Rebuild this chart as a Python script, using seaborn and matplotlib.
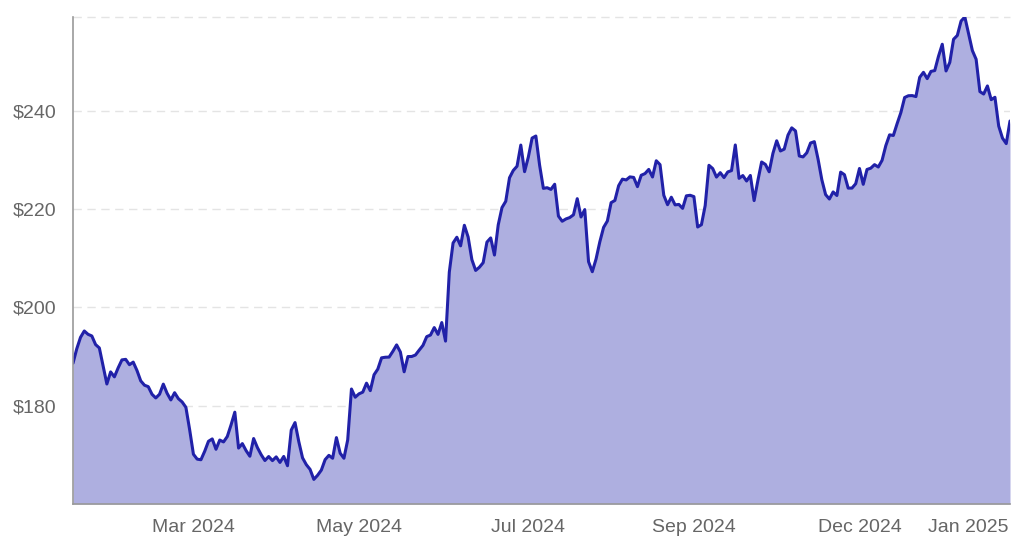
import numpy as np
import pandas as pd
import matplotlib
matplotlib.use('Agg')
import matplotlib.pyplot as plt
import seaborn as sns

# daily closing prices, one list per month (trading days)
jan24 = [188.63, 191.56, 193.89, 195.18, 194.50, 194.17, 192.42, 191.73, 188.04, 184.40]
feb24 = [186.86, 185.85, 187.68, 189.30, 189.41, 188.32, 188.85, 187.15, 185.04, 184.15,
         183.86, 182.31, 181.56, 182.32, 184.37, 182.52, 181.16, 182.63, 181.42, 180.75]
mar24 = [179.66, 175.10, 170.12, 169.12, 169.00, 170.73, 172.75, 173.23, 171.13, 173.00,
         172.62, 173.72, 176.08, 178.67, 171.37, 172.28, 170.85, 169.71, 173.31, 171.48]
apr24 = [170.03, 168.84, 169.65, 168.82, 169.58, 168.45, 169.67, 167.78, 175.04, 176.55, 172.69,
         169.38, 168.00, 167.04, 165.00, 165.84, 166.90, 169.02, 169.89, 169.30, 173.50, 170.33]
may24 = [169.30, 173.03, 183.38, 181.71, 182.40, 182.74, 184.57, 183.05, 186.28, 187.43, 189.72,
         189.84, 189.87, 191.04, 192.35, 190.90, 186.88, 189.98, 189.99, 190.29, 191.29, 192.25]
jun24 = [194.03, 194.35, 195.87, 194.48, 196.89, 193.12, 207.15, 213.07, 214.24, 212.49,
         216.67, 214.29, 209.68, 207.49, 208.14, 209.07, 213.25, 214.10, 210.62]
jul24 = [216.75, 220.27, 221.55, 226.34, 227.82, 228.68, 232.98, 227.57, 230.54, 234.40, 234.82,
         228.88, 224.18, 224.31, 223.96, 225.01, 218.54, 217.49, 217.96, 218.24, 218.80, 222.08]
aug24 = [218.36, 219.86, 209.27, 207.23, 209.82, 213.31, 216.24, 217.53, 221.27, 221.72, 224.72,
         226.05, 225.89, 226.51, 226.40, 224.53, 226.84, 227.18, 228.03, 226.49, 229.79, 229.00]
sep24 = [222.77, 220.85, 222.38, 220.82, 220.91, 220.11, 222.66, 222.77, 222.50, 216.32,
         216.79, 220.69, 228.87, 228.20, 226.47, 227.37, 226.37, 227.52, 227.79, 233.00]
oct24 = [226.21, 226.78, 225.67, 226.80, 221.69, 225.77, 229.54, 229.04, 227.55, 231.30, 233.85, 231.78,
         232.15, 235.00, 236.48, 235.86, 230.76, 230.57, 231.41, 233.40, 233.67, 230.10, 225.91]
nov24 = [222.91, 222.01, 223.45, 222.72, 227.48, 226.96, 224.23, 224.23, 225.12, 228.22,
         225.00, 228.02, 228.28, 229.00, 228.52, 229.87, 232.87, 235.06, 234.93, 237.33]
dec24 = [239.59, 242.65, 243.01, 243.04, 242.84, 246.75, 247.77, 246.49, 247.96, 248.13, 251.04,
         253.48, 248.05, 249.79, 254.49, 255.27, 258.20, 259.02, 255.59, 252.20, 250.42]
jan25 = [243.85, 243.36, 245.00, 242.21, 242.70, 236.85, 234.40, 233.28, 237.87]

tick_idx = [32, 76, 121, 165, 209, 238]
tick_labels = ['Mar 2024', 'May 2024', 'Jul 2024', 'Sep 2024', 'Dec 2024', 'Jan 2025']
y_ticks = [180, 200, 220, 240]

close = jan24 + feb24 + mar24 + apr24 + may24 + jun24 + jul24 + aug24 + sep24 + oct24 + nov24 + dec24 + jan25
df = pd.DataFrame({'day': np.arange(len(close)), 'close': close})

sns.set_style('white')
plt.rcParams['font.family'] = ['Liberation Sans', 'DejaVu Sans']

fig = plt.figure(figsize=(10.11, 5.39), dpi=100)
ax = fig.add_axes([73 / 1011, 35 / 539, 937 / 1011, 487 / 539])

ymin = 160
ymax = df['close'].max()

for v in y_ticks:
    ax.axhline(v, color='#e4e4e4', lw=1, dashes=(6, 4), zorder=0)
ax.axhline(ymax, color='#e4e4e4', lw=1, dashes=(6, 4), zorder=0, clip_on=False)

ax.fill_between(df['day'], df['close'], ymin, color='#aeafe0', lw=0, zorder=1)
sns.lineplot(data=df, x='day', y='close', ax=ax, color='#2121a8', lw=2.2, zorder=2)

ax.set_xlim(0, len(close) - 1)
ax.set_ylim(ymin, ymax)
ax.set_xticks(tick_idx)
ax.set_xticklabels(tick_labels)
ax.set_yticks(y_ticks)
ax.set_yticklabels(['$' + str(v) for v in y_ticks])
ax.set_xlabel('')
ax.set_ylabel('')
ax.tick_params(axis='both', length=0, labelsize=14, colors='#666666')
ax.tick_params(axis='x', pad=11)
ax.tick_params(axis='y', pad=12)

for s in ['top', 'right']:
    ax.spines[s].set_visible(False)
for s in ['left', 'bottom']:
    ax.spines[s].set_color('#999999')
    ax.spines[s].set_linewidth(1.2)
    ax.spines[s].set_zorder(3)

plt.savefig('out.png', dpi=100)
plt.close()
